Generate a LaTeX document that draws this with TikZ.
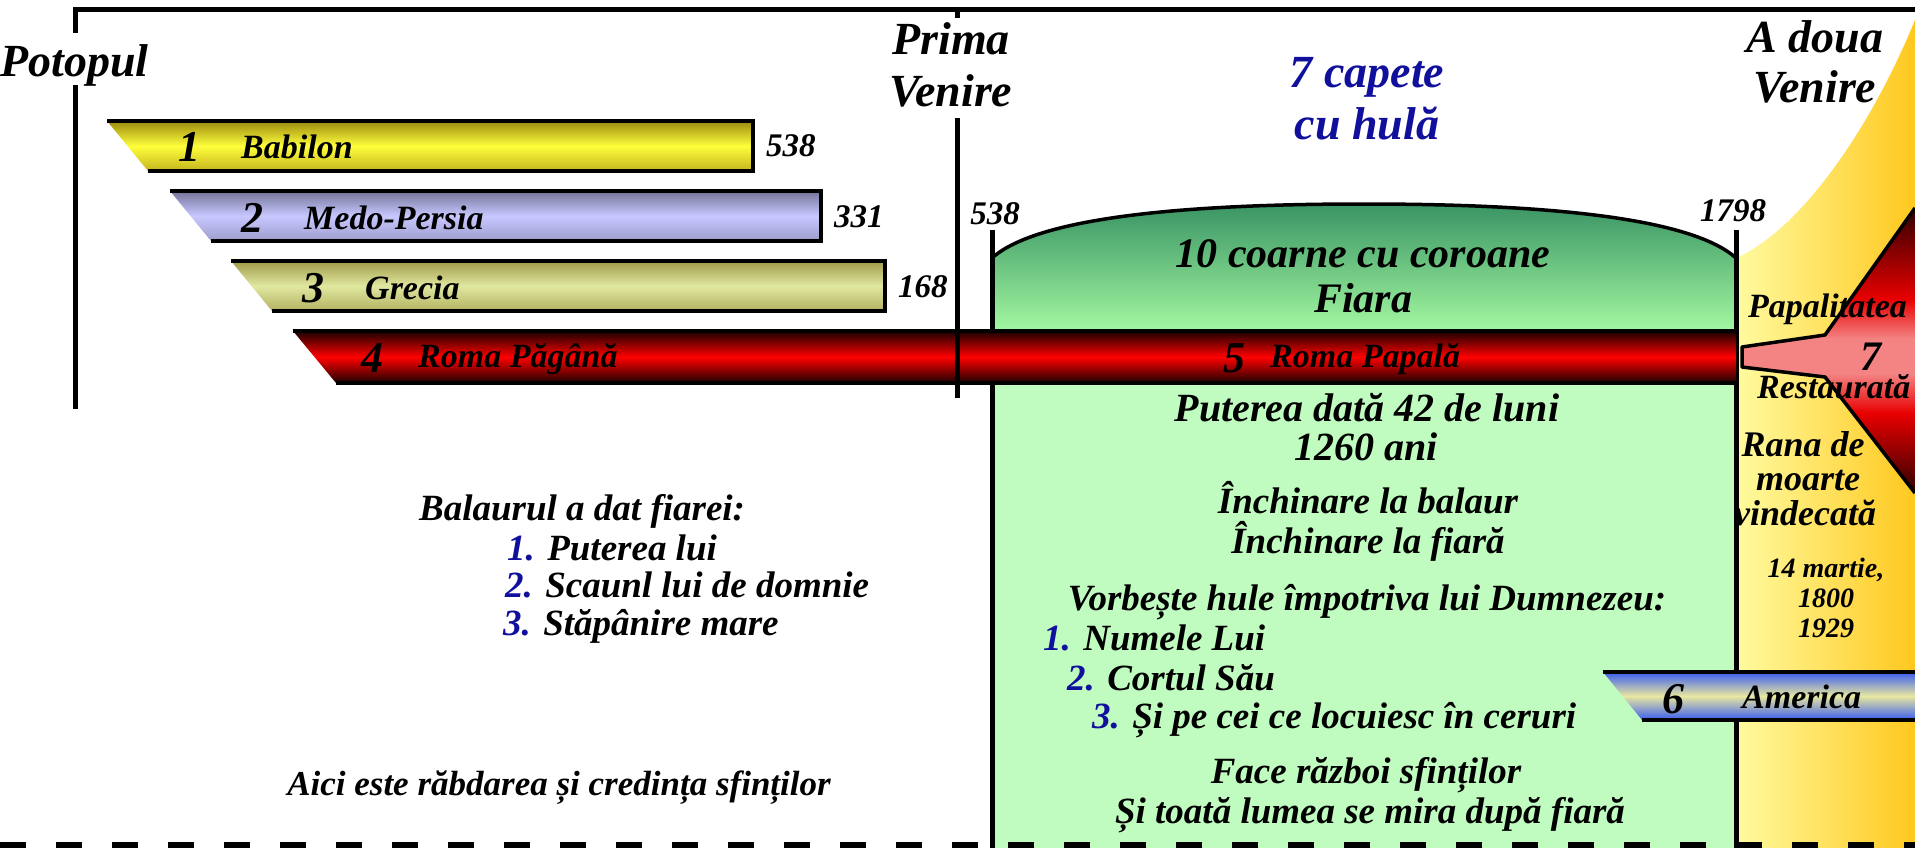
\documentclass[tikz,border=0pt]{standalone}
\usepackage{fontspec}
\setmainfont{Liberation Serif}
\usetikzlibrary{calc}
\definecolor{babdk}{HTML}{9C8A0E}
\definecolor{bablt}{HTML}{FFFF3C}
\definecolor{babbt}{HTML}{C4B41E}
\definecolor{medk}{HTML}{74749A}
\definecolor{melt}{HTML}{C8C8FF}
\definecolor{mebt}{HTML}{9C9CCC}
\definecolor{grdk}{HTML}{A09A48}
\definecolor{grlt}{HTML}{E0E8A0}
\definecolor{grbt}{HTML}{B4B060}
\definecolor{romdk}{HTML}{1A0000}
\definecolor{romlt}{HTML}{FF0000}
\definecolor{domedk}{HTML}{3A9464}
\definecolor{domelt}{HTML}{A2F8A0}
\definecolor{fiarafill}{HTML}{C0FCC0}
\definecolor{goldlt}{HTML}{FFFBA0}
\definecolor{goldrt}{HTML}{FFC81E}
\definecolor{amblue}{HTML}{3A5CF0}
\definecolor{amlt}{HTML}{E8E8A0}
\definecolor{capblue}{HTML}{10109C}
\definecolor{sevdk}{HTML}{300000}
\definecolor{sevmd}{HTML}{800000}
\definecolor{sevrd}{HTML}{E80000}
\definecolor{sevpk}{HTML}{F48484}
\pgfdeclareverticalshading{sevenshade}{100bp}{color(0bp)=(sevdk); color(25bp)=(sevdk);
  color(31bp)=(sevmd); color(39bp)=(sevrd); color(46bp)=(sevpk); color(52bp)=(sevpk);
  color(59bp)=(sevrd); color(68bp)=(sevmd); color(75bp)=(sevdk); color(100bp)=(sevdk)}
\newcommand\fsz[1]{\fontsize{#1}{#1}\selectfont\bfseries\itshape}
\tikzset{
  lbl/.style     = {inner sep=0pt, anchor=base},
  head/.style    = {lbl, font={\fsz{46}}},
  big/.style     = {lbl, font={\fsz{42}}},
  body/.style    = {lbl, font={\fsz{37}}},
  bartxt/.style  = {lbl, anchor=base west, font={\fsz{34}}},
  barnum/.style  = {lbl, anchor=base west, font={\fsz{44}}},
  yeartxt/.style = {lbl, anchor=base west, font={\fsz{33}}},
  small/.style   = {lbl, font={\fsz{28}}},
  bdr/.style     = {draw=black, line width=3.5pt},
  rule/.style    = {draw=black, line width=5pt},
}

\begin{document}
\begin{tikzpicture}[x=1pt, y=-1pt]
  \useasboundingbox (0,0) rectangle (1915,848);
  \clip (0,0) rectangle (1915,848);
  % right band after 1798
  \shade[left color=goldlt, right color=goldrt]
    (1736,258) .. controls (1800,230) and (1870,130) .. (1915,20) -- (1915,848) -- (1736,848) -- cycle;
  % the beast
  \shade[top color=domedk, bottom color=domelt]
    (992,331) -- (992,258) .. controls (1040,215) and (1200,204) .. (1364,204)
    .. controls (1528,204) and (1688,215) .. (1736,258) -- (1736,331) -- cycle;
  \fill[fiarafill] (992,331) rectangle (1736,848);
  \draw[bdr] (992,258) .. controls (1040,215) and (1200,204) .. (1364,204)
    .. controls (1528,204) and (1688,215) .. (1736,258);
  \draw[rule] (992,230) -- (992,848);
  \draw[rule] (1736,230) -- (1736,848);
  % kingdoms 1-3
  \foreach \n/\xl/\yt/\xr/\cdk/\clt/\cbt/\name/\yr in
    {1/107/121/753/babdk/bablt/babbt/Babilon/538,
     2/170/191/821/medk/melt/mebt/Medo-Persia/331,
     3/231/261/885/grdk/grlt/grbt/Grecia/168}
  {
    \shade[top color=\cdk, bottom color=\cbt, middle color=\clt]
      (\xl,\yt) -- (\xr,\yt) -- (\xr,\yt+50) -- (\xl+41,\yt+50) -- cycle;
    \draw[bdr] (\xl+41,\yt+50) -- (\xr,\yt+50) -- (\xr,\yt) -- (\xl,\yt);
    \node[barnum] (num\n) at (\xl+71,\yt+41) {\n};
    \node[bartxt] (kingdom\n) at (\xl+134,\yt+38) {\name};
    \node[yeartxt] (year\n) at (\xr+13,\yt+36) {\yr};
  }
  % Rome
  \shade[top color=romdk, bottom color=romdk, middle color=romlt]
    (293,331) -- (1736,331) -- (1736,383) -- (336,383) -- cycle;
  \draw[bdr] (293,331) -- (1736,331) (336,383) -- (1736,383);
  \node[barnum] (num4) at (361,372) {4};
  \node[bartxt] (kingdom4) at (418,367) {Roma Păgână};
  \node[barnum] (num5) at (1223,372) {5};
  \node[bartxt] (kingdom5) at (1270,367) {Roma Papală};
  % papacy restored
  \shade[shading=sevenshade]
    (1915,208) -- (1825,335) -- (1742,347) -- (1742,367) -- (1825,377) -- (1915,493) -- cycle;
  \draw[bdr, line join=round]
    (1915,208) -- (1825,335) -- (1742,347) -- (1742,367) -- (1825,377) -- (1915,493);
  % America
  \shade[top color=amblue, bottom color=amblue, middle color=amlt]
    (1603,672) -- (1915,672) -- (1915,720) -- (1642,720) -- cycle;
  \draw[bdr] (1603,672) -- (1915,672) (1642,720) -- (1915,720);
  \node[barnum] (num6) at (1662,713) {6};
  \node[bartxt] (kingdom6) at (1742,708) {America};

  % headings
  \node[head, anchor=base west] (potop) at (0,77) {Potopul};
  \node[head] (prima) at (951,55) {Prima};
  \node[head] (primav) at (951,107) {Venire};
  \node[head] (adoua) at (1815,53) {A doua};
  \node[head] (adouav) at (1815,103) {Venire};
  \node[head, text=capblue] (capete) at (1367,88) {7 capete};
  \node[head, text=capblue] (hula) at (1367,140) {cu hulă};
  \node[yeartxt, anchor=base] (y538) at (995,224) {538};
  \node[yeartxt, anchor=base] (y1798) at (1733,222) {1798};
  \node[big] (coarne) at (1363,267) {10 coarne cu coroane};
  \node[big] (fiara) at (1363,312) {Fiara};

  % inside the beast
  \node[big, font={\fsz{40}}] (putere) at (1367,421) {Puterea dată 42 de luni};
  \node[big, font={\fsz{40}}] (ani) at (1366,460) {1260 ani};
  \node[body] (inch1) at (1368,513) {Închinare la balaur};
  \node[body] (inch2) at (1368,553) {Închinare la fiară};
  \node[body] (hule) at (1367,610) {Vorbește hule împotriva lui Dumnezeu:};
  \node[body, anchor=base west] (hule1) at (1043,650) {{\color{capblue}1.} Numele Lui};
  \node[body, anchor=base west] (hule2) at (1067,690) {{\color{capblue}2.} Cortul Său};
  \node[body, anchor=base west] (hule3) at (1092,728) {{\color{capblue}3.} Și pe cei ce locuiesc în ceruri};
  \node[body] (razboi) at (1366,783) {Face război sfinților};
  \node[body] (mira) at (1370,823) {Și toată lumea se mira după fiară};

  % dragon gives
  \node[body, anchor=base west] (balaur) at (419,520) {Balaurul a dat fiarei:};
  \node[body, anchor=base west] (dat1) at (507,560) {{\color{capblue}1.} Puterea lui};
  \node[body, anchor=base west] (dat2) at (505,597) {{\color{capblue}2.} Scaunl lui de domnie};
  \node[body, anchor=base west] (dat3) at (503,635) {{\color{capblue}3.} Stăpânire mare};
  \node[body, font={\fsz{35}}] (rabdare) at (559,795) {Aici este răbdarea și credința sfinților};

  % right band texts
  \node[bartxt] (papal) at (1748,317) {Papalitatea};
  \node[barnum, font={\fsz{42}}] (num7) at (1860,370) {7};
  \node[bartxt] (restaur) at (1757,398) {Restaurată};
  \node[body, font={\fsz{36}}] (rana1) at (1803,456) {Rana de};
  \node[body, font={\fsz{36}}] (rana2) at (1808,490) {moarte};
  \node[body, font={\fsz{36}}] (rana3) at (1805,525) {vindecată};
  \node[small] (date1) at (1826,577) {14 martie,};
  \node[small] (date2) at (1826,607) {1800};
  \node[small] (date3) at (1826,637) {1929};

  % frame and time lines
  \draw[rule, line join=miter] (75,33) -- (75,10) -- (1915,10);
  \draw[rule] (75,85) -- (75,409);
  \draw[rule] (957,10) -- (957,18);
  \draw[rule] (957,118) -- (957,398);
  \draw[line width=6pt, dash pattern=on 26pt off 30pt] (0,845) -- (1915,845);
\end{tikzpicture}
\end{document}
